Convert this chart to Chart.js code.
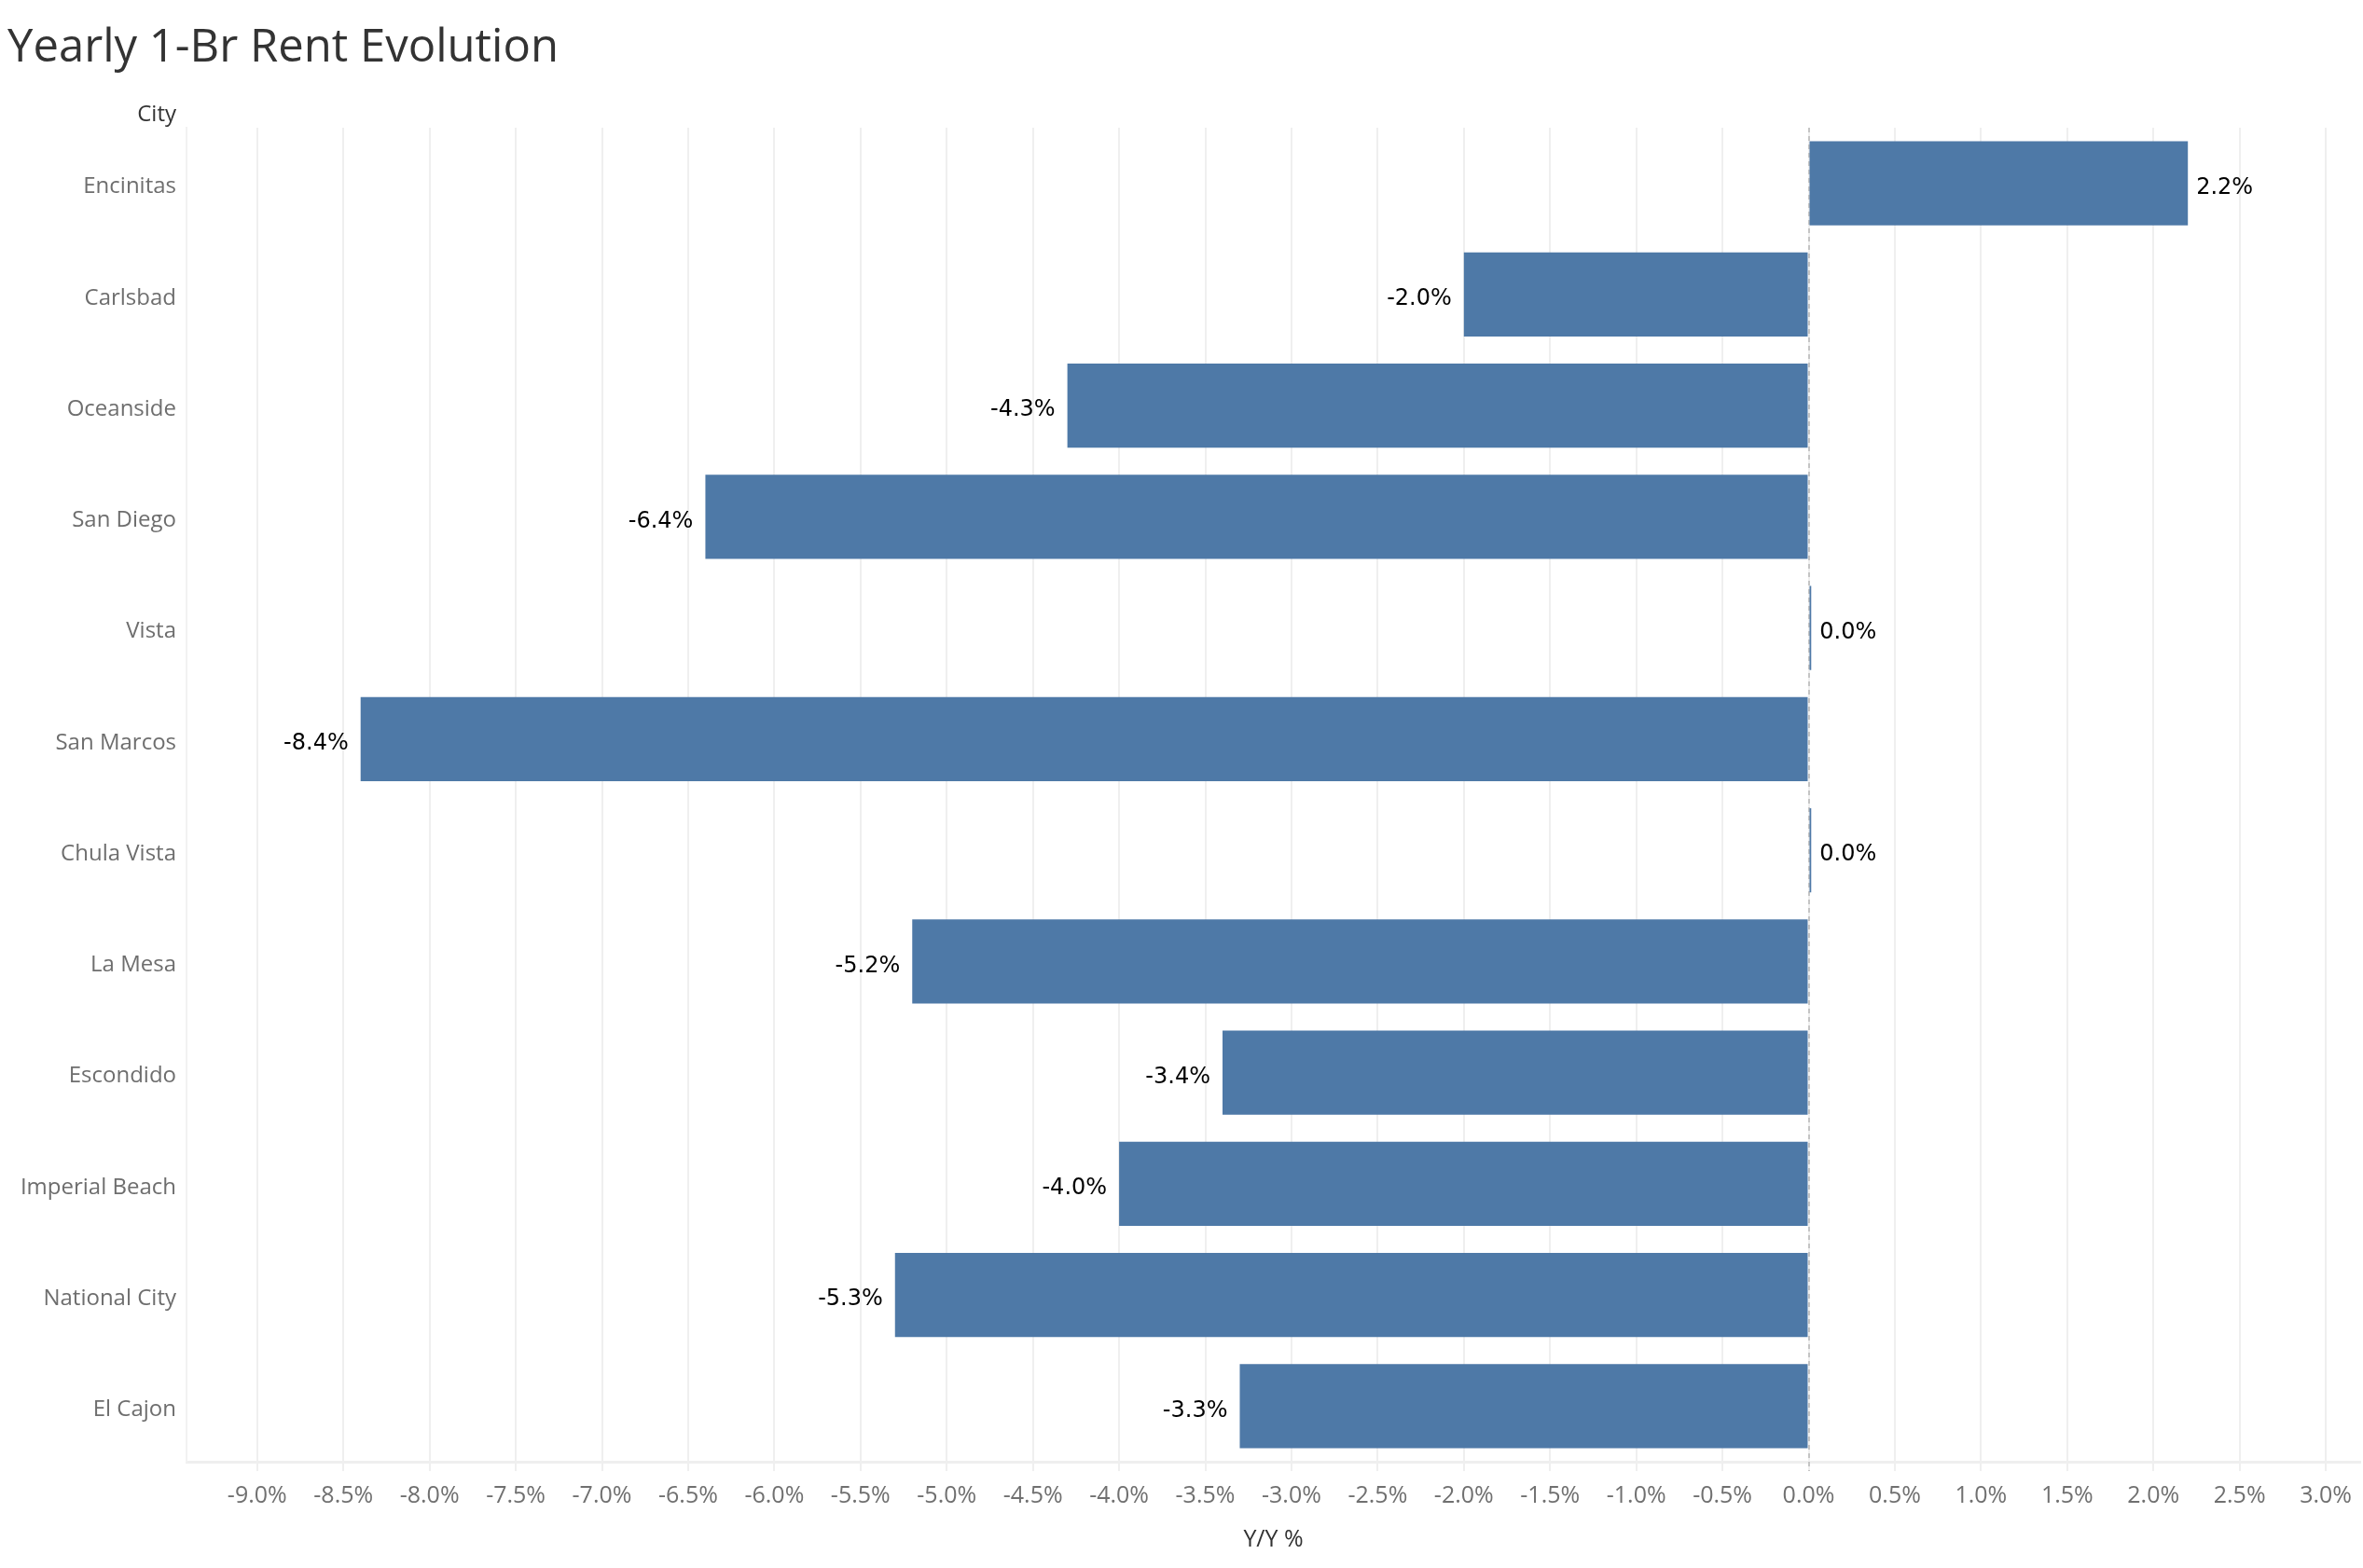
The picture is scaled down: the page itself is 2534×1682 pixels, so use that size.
<!DOCTYPE html>
<html>
<head>
<meta charset="utf-8">
<title>Yearly 1-Br Rent Evolution</title>
<script src="https://cdn.jsdelivr.net/npm/chart.js@4"></script>
<style>
  html, body { margin: 0; padding: 0; background: #fff; }
  #wrap { position: relative; width: 2534px; height: 1682px; }
</style>
</head>
<body>
<div id="wrap"><canvas id="chart"></canvas></div>
<script>
// ── Data ──
const cities = [
  'Encinitas', 'Carlsbad', 'Oceanside', 'San Diego', 'Vista', 'San Marcos',
  'Chula Vista', 'La Mesa', 'Escondido', 'Imperial Beach', 'National City', 'El Cajon'
];
const yoyPct = [2.2, -2.0, -4.3, -6.4, 0.015, -8.4, 0.015, -5.2, -3.4, -4.0, -5.3, -3.3];

const AXIS_MIN = -9.41;
const AXIS_MAX = 3.2;
const BAR_COLOR = '#4e79a7';

Chart.defaults.font.family = '"Open Sans", sans-serif';
Chart.defaults.devicePixelRatio = 1;

// ── Plugins ──
const titlePlugin = {
  id: 'titles',
  afterDraw(chart) {
    const ctx = chart.ctx;
    ctx.save();
    ctx.textBaseline = 'middle';
    ctx.fillStyle = '#333333';
    ctx.textAlign = 'left';
    ctx.font = '49px "Open Sans", sans-serif';
    ctx.fillText('Yearly 1-Br Rent Evolution', 8, 52);
    ctx.textAlign = 'right';
    ctx.font = '24px "Open Sans", sans-serif';
    ctx.fillText('City', 189, 123);
    ctx.restore();
  }
};

const zeroLine = {
  id: 'zeroLine',
  beforeDatasetsDraw(chart) {
    const { ctx, chartArea, scales } = chart;
    const x = Math.round(scales.x.getPixelForValue(0));
    ctx.save();
    ctx.strokeStyle = '#c4c4c4';
    ctx.lineWidth = 2;
    ctx.setLineDash([5, 4]);
    ctx.beginPath();
    ctx.moveTo(x, chartArea.top);
    ctx.lineTo(x, chartArea.bottom + 10);
    ctx.stroke();
    ctx.restore();
  }
};

const barLabels = {
  id: 'barLabels',
  afterDatasetsDraw(chart) {
    const ctx = chart.ctx;
    const meta = chart.getDatasetMeta(0);
    ctx.save();
    ctx.font = '24px "DejaVu Sans", sans-serif';
    ctx.fillStyle = '#000000';
    ctx.textBaseline = 'middle';
    meta.data.forEach((bar, i) => {
      const v = yoyPct[i];
      const txt = v.toFixed(1) + '%';
      if (v >= 0) {
        ctx.textAlign = 'left';
        ctx.fillText(txt, bar.x + 9, bar.y + 5);
      } else {
        ctx.textAlign = 'right';
        ctx.fillText(txt, bar.x - 13, bar.y + 5);
      }
    });
    ctx.restore();
  }
};

// ── Chart ──
new Chart(document.getElementById('chart'), {
  type: 'bar',
  data: {
    labels: cities,
    datasets: [{
      data: yoyPct,
      backgroundColor: BAR_COLOR,
      borderWidth: 0,
      categoryPercentage: 1,
      barPercentage: 0.757
    }]
  },
  options: {
    indexAxis: 'y',
    responsive: true,
    maintainAspectRatio: false,
    animation: false,
    layout: { padding: { left: 0, right: 0, top: 137, bottom: 11 } },
    plugins: {
      legend: { display: false },
      tooltip: { enabled: false }
    },
    scales: {
      x: {
        type: 'linear',
        min: AXIS_MIN,
        max: AXIS_MAX,
        afterFit: s => { s.height = 103; },
        grid: {
          color: '#efefef',
          lineWidth: 2,
          drawTicks: true,
          tickLength: 10,
          tickColor: '#efefef'
        },
        border: { display: true, color: '#efefef', width: 3 },
        ticks: {
          stepSize: 0.5,
          includeBounds: false,
          autoSkip: false,
          maxRotation: 0,
          padding: 12,
          color: '#707070',
          font: { size: 25 },
          callback: v => v.toFixed(1) + '%'
        },
        title: {
          display: true,
          text: 'Y/Y %',
          color: '#333333',
          font: { size: 25 },
          padding: { top: 4, bottom: 4 }
        }
      },
      y: {
        afterFit: s => { s.width = 200; },
        grid: { display: false, drawTicks: false },
        border: { display: true, color: '#f2f2f2', width: 2 },
        ticks: {
          padding: 11,
          labelOffset: 4,
          color: '#6e6e6e',
          font: { size: 24 }
        }
      }
    }
  },
  plugins: [titlePlugin, zeroLine, barLabels]
});
</script>
</body>
</html>
